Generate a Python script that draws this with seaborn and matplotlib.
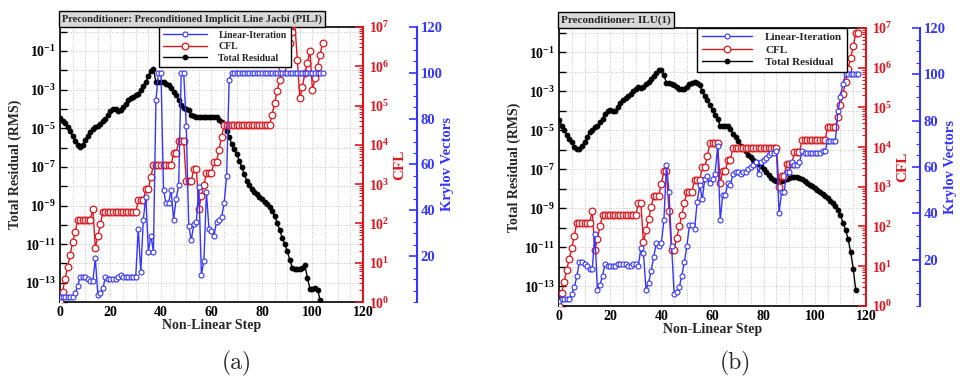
import numpy as np
import pandas as pd
import matplotlib
matplotlib.use('Agg')
import matplotlib.pyplot as plt
import seaborn as sns
from matplotlib.ticker import FixedLocator, FuncFormatter, MultipleLocator, NullFormatter

# ---------------- data ----------------
# Panel (a): PILJ preconditioner. Residual stored as log10 values per non-linear step.
res_a_log10 = [-4.48, -4.6, -4.75, -4.95, -5.15, -5.4, -5.65, -5.85, -5.95, -5.85,
               -5.6, -5.4, -5.2, -5.05, -4.95, -4.9, -4.8, -4.6, -4.5, -4.3,
               -4.1, -4.0, -4.0, -4.1, -4.05, -3.9, -3.75, -3.55, -3.45, -3.4,
               -3.3, -3.2, -3.0, -2.8, -2.6, -2.3, -2.05, -1.95, -2.6, -2.6,
               -2.6, -2.62, -2.7, -2.78, -2.9, -3.1, -3.3, -3.55, -3.8, -3.95,
               -4.0, -4.05, -4.3, -4.35, -4.4, -4.4, -4.42, -4.42, -4.42, -4.4,
               -4.42, -4.42, -4.43, -4.55, -4.69, -4.9, -5.12, -5.45, -5.81, -6.07,
               -6.33, -6.68, -7.03, -7.38, -7.72, -7.95, -8.15, -8.3, -8.41, -8.54,
               -8.67, -8.8, -8.93, -9.1, -9.28, -9.55, -9.88, -10.25, -10.66, -11.0,
               -11.35, -11.8, -12.22, -12.3, -12.3, -12.3, -12.25, -12.1, -12.74, -13.31,
               -13.31, -13.25, -13.35, -13.88]
cfl_a_log10 = [0.0, 0.26, 0.58, 0.89, 1.2, 1.52, 1.79, 2.09, 2.09, 2.09,
               2.09, 2.09, 2.09, 2.38, 1.38, 1.68, 1.99, 2.29, 2.29, 2.29,
               2.29, 2.29, 2.29, 2.29, 2.29, 2.29, 2.29, 2.29, 2.29, 2.29,
               2.29, 2.59, 2.59, 2.59, 2.87, 2.87, 3.19, 3.49, 3.49, 3.49,
               3.49, 3.49, 3.49, 3.49, 3.49, 3.79, 3.79, 4.09, 4.09, 4.09,
               3.09, 3.09, 3.09, 3.38, 3.38, 2.38, 2.7, 2.98, 3.28, 3.28,
               3.28, 3.57, 3.57, 3.88, 4.2, 4.5, 4.5, 4.5, 4.5, 4.5,
               4.5, 4.5, 4.5, 4.5, 4.5, 4.5, 4.5, 4.5, 4.5, 4.5,
               4.5, 4.5, 4.5, 4.5, 4.76, 5.06, 5.36, 5.66, 5.96, 6.2,
               6.4, 6.6, 6.88, 7.1, 6.16, 5.18, 5.48, 5.82, 6.09, 6.39,
               5.39, 5.69, 5.99, 6.29, 6.59]
kry_a = [2, 2, 2, 2, 2, 2, 4, 7, 11, 11,
         11, 10, 9, 9, 19, 3, 4, 6, 11, 10,
         10, 10, 10, 11, 12, 11, 11, 11, 11, 11,
         11, 32, 13, 36, 46, 22, 29, 22, 88, 100,
         100, 49, 43, 43, 49, 36, 45, 51, 100, 100,
         77, 33, 27, 34, 35, 50, 12, 18, 48, 32,
         31, 29, 35, 36, 37, 43, 55, 97, 100, 100,
         100, 100, 100, 100, 100, 100, 100, 100, 100, 100,
         100, 100, 100, 100, 100, 100, 100, 100, 100, 100,
         100, 100, 100, 100, 100, 100, 100, 100, 100, 100,
         100, 100, 100, 100, 100]

# Panel (b): ILU(1) preconditioner.
res_b_log10 = [-4.45, -4.75, -5.0, -5.26, -5.43, -5.6, -5.86, -5.95, -5.95, -5.78,
               -5.6, -5.35, -5.09, -4.97, -4.83, -4.8, -4.57, -4.4, -4.14, -4.0,
               -3.94, -4.0, -4.0, -3.8, -3.59, -3.46, -3.34, -3.25, -3.11, -2.98,
               -2.86, -2.77, -2.8, -2.77, -2.63, -2.51, -2.34, -2.22, -2.08, -1.91,
               -1.88, -2.17, -2.56, -2.56, -2.6, -2.68, -2.77, -2.86, -2.9, -2.86,
               -2.77, -2.63, -2.56, -2.51, -2.56, -2.68, -2.98, -3.25, -3.45, -3.7,
               -3.94, -4.23, -4.42, -4.75, -4.75, -4.75, -4.8, -4.92, -5.18, -5.35,
               -5.52, -5.78, -5.91, -6.07, -6.24, -6.38, -6.5, -6.6, -6.72, -6.85,
               -7.0, -7.15, -7.3, -7.42, -7.52, -7.6, -7.62, -7.6, -7.55, -7.48,
               -7.42, -7.38, -7.37, -7.38, -7.42, -7.5, -7.6, -7.7, -7.78, -7.86,
               -7.95, -8.05, -8.15, -8.25, -8.35, -8.47, -8.6, -8.72, -8.87, -9.08,
               -9.35, -9.73, -10.1, -10.57, -11.24, -12.1, -13.2]
cfl_b_log10 = [0.0, 0.32, 0.61, 0.91, 1.18, 1.47, 1.77, 2.1, 2.1, 2.1,
               2.1, 2.1, 2.1, 2.39, 1.41, 1.69, 2.0, 2.29, 2.29, 2.29,
               2.29, 2.29, 2.29, 2.29, 2.29, 2.29, 2.29, 2.29, 2.29, 2.29,
               2.29, 2.59, 2.59, 1.6, 1.9, 2.18, 2.48, 2.78, 2.78, 2.78,
               3.08, 3.39, 3.39, 2.38, 1.41, 1.41, 1.71, 2.0, 2.29, 2.59,
               2.88, 2.88, 2.88, 3.18, 3.18, 3.18, 3.5, 3.5, 3.78, 4.1,
               4.1, 4.1, 4.1, 3.09, 3.39, 3.39, 3.68, 3.68, 3.99, 3.99,
               3.99, 3.99, 3.99, 3.99, 3.99, 3.99, 3.99, 3.99, 3.99, 3.99,
               3.99, 3.99, 3.99, 3.99, 3.99, 3.99, 3.0, 3.28, 3.28, 3.58,
               3.58, 3.58, 3.87, 3.87, 3.87, 4.18, 4.18, 4.18, 4.18, 4.18,
               4.18, 4.18, 4.18, 4.18, 4.18, 4.5, 4.5, 4.5, 4.5, 4.77,
               5.07, 5.34, 5.65, 5.97, 6.25, 6.54, 6.87, 6.87]
kry_b = [2, 3, 3, 3, 3, 5, 8, 13, 19, 19,
         18, 17, 16, 16, 31, 7, 9, 13, 18, 17,
         17, 17, 17, 18, 18, 18, 18, 17, 17, 18,
         18, 17, 25, 23, 7, 10, 15, 21, 27, 26,
         27, 37, 61, 49, 26, 5, 6, 8, 13, 19,
         26, 35, 35, 33, 45, 52, 46, 55, 56, 53,
         55, 57, 69, 37, 48, 48, 53, 52, 57, 58,
         58, 57, 58, 58, 59, 60, 61, 62, 57, 62,
         63, 64, 65, 66, 66, 67, 40, 49, 49, 58,
         58, 62, 61, 61, 62, 67, 66, 66, 66, 66,
         66, 66, 66, 67, 67, 71, 71, 71, 71, 84,
         90, 96, 100, 100, 100, 100, 100, 100]

titles = ["Preconditioner: Preconditioned Implicit Line Jacbi (PILJ)",
          "Preconditioner: ILU(1)"]
series_names = ["Linear-Iteration", "CFL", "Total Residual"]
captions = ["(a)", "(b)"]
left_tick_exps = [-1, -3, -5, -7, -9, -11, -13]
cfl_tick_exps = [0, 1, 2, 3, 4, 5, 6, 7]
kry_ticks = [20, 40, 60, 80, 100, 120]
x_ticks = [0, 20, 40, 60, 80, 100, 120]

# ---------------- style ----------------
sns.set_style('white')
plt.rcParams['font.family'] = ['Liberation Serif', 'DejaVu Serif']
plt.rcParams['font.weight'] = 'bold'
plt.rcParams['mathtext.fontset'] = 'custom'
plt.rcParams['mathtext.rm'] = 'Liberation Serif:bold'
plt.rcParams['mathtext.bf'] = 'Liberation Serif:bold'
plt.rcParams['mathtext.it'] = 'Liberation Serif:bold:italic'
plt.rcParams['axes.unicode_minus'] = True

BLUE = '#3535ff'
RED = '#e0161e'
GRID = '#c4c4c4'


def pow_fmt(v, pos):
    if v <= 0:
        return ''
    e = int(round(np.log10(v)))
    return r'$10^{%d}$' % e


def draw_panel(ax, res_log, cfl_log, kry, title, leg_anchor, leg_fs, title_fs):
    df_res = pd.DataFrame({'step': np.arange(len(res_log)),
                           'val': np.power(10.0, np.array(res_log))})
    df_cfl = pd.DataFrame({'step': np.arange(len(cfl_log)),
                           'val': np.power(10.0, np.array(cfl_log))})
    df_kry = pd.DataFrame({'step': np.arange(len(kry)), 'val': np.array(kry, float)})

    ax_c = ax.twinx()
    ax_k = ax.twinx()

    # Residual (host)
    sns.lineplot(data=df_res, x='step', y='val', ax=ax, color='black', lw=1.0,
                 marker='o', markersize=3.4, markerfacecolor='black',
                 markeredgecolor='black', label=series_names[2], legend=False,
                 errorbar=None, sort=False)
    ax.set_yscale('log')
    ax.set_ylim(10 ** -14, 10 ** 0.25)
    ax.set_xlim(0, 120)

    # CFL
    sns.lineplot(data=df_cfl, x='step', y='val', ax=ax_c, color=RED, lw=1.0,
                 marker='o', markersize=4.8, markerfacecolor='white',
                 markeredgecolor=RED, markeredgewidth=0.9, label=series_names[1],
                 legend=False, errorbar=None, sort=False, clip_on=True)
    ax_c.set_yscale('log')
    ax_c.set_ylim(1, 1e7)

    # Krylov
    sns.lineplot(data=df_kry, x='step', y='val', ax=ax_k, color=BLUE, lw=1.0,
                 marker='o', markersize=3.6, markerfacecolor='white',
                 markeredgecolor=BLUE, markeredgewidth=0.8, label=series_names[0],
                 legend=False, errorbar=None, sort=False)
    ax_k.set_ylim(0, 120)
    ax_k.set_xlim(0, 120)
    ax_c.set_xlim(0, 120)

    # host axis cosmetics
    ax.xaxis.set_major_locator(FixedLocator(x_ticks))
    ax.xaxis.set_minor_locator(MultipleLocator(5))
    ax.yaxis.set_major_locator(FixedLocator([10.0 ** e for e in range(-14, 1)]))
    ax.yaxis.set_minor_locator(FixedLocator([]))
    ax.yaxis.set_major_formatter(FuncFormatter(
        lambda v, p: (r'$10^{%d}$' % int(round(np.log10(v))))
        if int(round(np.log10(v))) in left_tick_exps else ''))
    ax.tick_params(axis='both', which='major', direction='in', length=5, width=1,
                   labelsize=10, colors='black', top=False, right=False, pad=3)
    ax.tick_params(axis='x', which='minor', direction='in', length=2.5, width=0.8,
                   top=False)
    ax.grid(True, axis='x', which='both', color=GRID, ls=':', lw=0.7)
    ax.grid(True, axis='y', which='major', color=GRID, ls=':', lw=0.7)
    for lab in ax.get_xticklabels() + ax.get_yticklabels():
        lab.set_fontweight('bold')
    ax.set_xlabel('Non-Linear Step', fontsize=10, fontweight='bold', labelpad=0)
    ax.set_ylabel('Total Residual (RMS)', fontsize=10, fontweight='bold', labelpad=2)
    for s in ['left', 'bottom', 'top']:
        ax.spines[s].set_color('black')
        ax.spines[s].set_linewidth(1.2)
    ax.spines['right'].set_visible(False)

    # CFL axis cosmetics
    for s in ['left', 'bottom', 'top']:
        ax_c.spines[s].set_visible(False)
    ax_c.spines['right'].set_color(RED)
    ax_c.spines['right'].set_linewidth(1.5)
    ax_c.yaxis.set_major_locator(FixedLocator([10.0 ** e for e in cfl_tick_exps]))
    ax_c.yaxis.set_minor_locator(FixedLocator(
        [m * 10.0 ** e for e in range(0, 7) for m in range(2, 10)]))
    ax_c.yaxis.set_major_formatter(FuncFormatter(pow_fmt))
    ax_c.yaxis.set_minor_formatter(NullFormatter())
    ax_c.tick_params(axis='y', which='major', direction='in', length=6, width=1.2,
                     colors=RED, labelsize=10, pad=4)
    ax_c.tick_params(axis='y', which='minor', direction='in', length=3, width=0.8,
                     colors=RED)
    ax_c.set_ylabel('CFL', color=RED, fontsize=11, fontweight='bold', labelpad=3)
    ax_c.grid(False)

    # Krylov axis cosmetics
    for s in ['left', 'bottom', 'top']:
        ax_k.spines[s].set_visible(False)
    ax_k.spines['right'].set_position(('outward', 39))
    ax_k.spines['right'].set_color(BLUE)
    ax_k.spines['right'].set_linewidth(1.5)
    ax_k.yaxis.set_major_locator(FixedLocator(kry_ticks))
    ax_k.yaxis.set_minor_locator(MultipleLocator(5))
    ax_k.tick_params(axis='y', which='major', direction='in', length=6, width=1.2,
                     colors=BLUE, labelsize=10.5, pad=2.5)
    ax_k.tick_params(axis='y', which='minor', direction='in', length=3, width=0.8,
                     colors=BLUE)
    ax_k.set_ylabel('Krylov Vectors', color=BLUE, fontsize=10.5, fontweight='bold',
                    labelpad=-1)
    ax_k.grid(False)
    for a in (ax_c, ax_k):
        for lab in a.get_yticklabels():
            lab.set_fontweight('bold')

    # legend
    handles = [ax_k.get_lines()[0], ax_c.get_lines()[0], ax.get_lines()[0]]
    leg = ax_k.legend(handles, series_names, loc='upper left',
                      bbox_to_anchor=leg_anchor, borderaxespad=0,
                      fancybox=False, framealpha=1, edgecolor='black',
                      prop={'family': 'Liberation Serif', 'weight': 'bold',
                            'size': leg_fs},
                      handlelength=4.5, handletextpad=1.2, labelspacing=0.25,
                      borderpad=0.4)
    leg.get_frame().set_linewidth(1.0)
    leg.set_zorder(20)

    # title box
    ax.text(0.006, 1.012, title, transform=ax.transAxes, ha='left', va='bottom',
            fontsize=title_fs, fontweight='bold',
            bbox=dict(boxstyle='square,pad=0.3', fc='#d8d8d8', ec='black', lw=1.0))


fig = plt.figure(figsize=(9.6, 3.79), dpi=100)
axA = fig.add_axes([0.0625, 0.203, 0.3156, 0.726])
axB = fig.add_axes([0.5823, 0.193, 0.3198, 0.733])

draw_panel(axA, res_a_log10, cfl_a_log10, kry_a, titles[0], (0.327, 1.0), 7.0, 7.6)
draw_panel(axB, res_b_log10, cfl_b_log10, kry_b, titles[1], (0.451, 1.0), 8.0, 8.0)

fig.text(0.247, 0.042, captions[0], fontsize=17, family='cmr10', fontweight='normal',
         ha='center', va='center')
fig.text(0.766, 0.042, captions[1], fontsize=17, family='cmr10', fontweight='normal',
         ha='center', va='center')

fig.savefig('out.png', dpi=100)
